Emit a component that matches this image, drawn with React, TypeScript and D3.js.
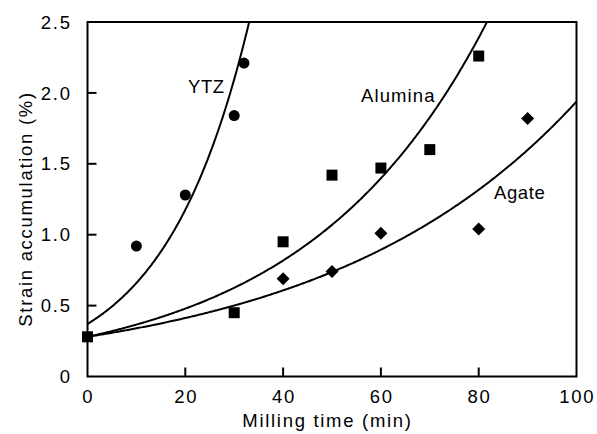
import React from "react";
import * as d3 from "d3";

const ytzX = [10, 20, 30, 32];
const ytzY = [0.92, 1.28, 1.84, 2.21];
const aluminaX = [0, 30, 40, 50, 60, 70, 80];
const aluminaY = [0.28, 0.45, 0.95, 1.42, 1.47, 1.6, 2.26];
const agateX = [40, 50, 60, 80, 90];
const agateY = [0.69, 0.74, 1.01, 1.04, 1.82];

// exponential fits y = a * exp(b * x)
const fitNames = ["YTZ", "Alumina", "Agate"];
const fitA = [0.37, 0.28, 0.28];
const fitB = [0.0578, 0.0268, 0.01935];

const xTicks = [0, 20, 40, 60, 80, 100];
const yTicks = [0, 0.5, 1.0, 1.5, 2.0, 2.5];
const yTickLabels = ["0", "0.5", "1.0", "1.5", "2.0", "2.5"];

const W = 597;
const H = 434;
const L = 87.5, R = 576.5, T = 22, B = 376.5;
const FONT = "'Liberation Sans', Arial, Helvetica, sans-serif";
const FS = 18.5;
const LS = 1.7;

export default function App() {
  const x = d3.scaleLinear().domain([0, 100]).range([L, R]);
  const y = d3.scaleLinear().domain([0, 2.5]).range([B, T]);

  const xs = d3.range(0, 100.01, 0.25);
  const line = d3
    .line<number[]>()
    .x((d) => x(d[0]))
    .y((d) => y(d[1]));

  const curves = fitA.map((a, i) =>
    line(xs.map((v) => [v, a * Math.exp(fitB[i] * v)]).filter((p) => p[1] < 2.7))
  );

  const sq = 11;
  const dia = 6.5;

  return (
    <svg
      width={W}
      height={H}
      style={{ position: "absolute", left: 0, top: 0, background: "#fff" }}
      fontFamily={FONT}
    >
      <defs>
        <clipPath id="plot">
          <rect x={L} y={T} width={R - L} height={B - T} />
        </clipPath>
      </defs>
      <rect x={0} y={0} width={W} height={H} fill="#fff" />

      {/* curves */}
      <g clipPath="url(#plot)" fill="none" stroke="#000" strokeWidth={2}>
        {curves.map((c, i) => (
          <path key={fitNames[i]} d={c || ""} />
        ))}
      </g>

      {/* frame */}
      <rect x={L} y={T} width={R - L} height={B - T} fill="none" stroke="#000" strokeWidth={2} />

      {/* ticks */}
      {xTicks.slice(1, -1).map((t) => (
        <line key={"xt" + t} x1={x(t)} x2={x(t)} y1={B} y2={B - 9} stroke="#000" strokeWidth={2} />
      ))}
      {yTicks.slice(1, -1).map((t) => (
        <line key={"yt" + t} x1={L} x2={L + 9} y1={y(t)} y2={y(t)} stroke="#000" strokeWidth={2} />
      ))}

      {/* tick labels */}
      {xTicks.map((t) => (
        <text
          key={"xl" + t}
          x={x(t) + LS / 2}
          y={403}
          textAnchor="middle"
          fontSize={FS}
          letterSpacing={LS}
        >
          {t}
        </text>
      ))}
      {yTicks.map((t, i) => (
        <text
          key={"yl" + t}
          x={70 + LS}
          y={y(t) + 6.6}
          textAnchor="end"
          fontSize={FS}
          letterSpacing={LS}
        >
          {yTickLabels[i]}
        </text>
      ))}

      {/* axis titles */}
      <text x={327.5} y={426.5} textAnchor="middle" fontSize={FS} letterSpacing={LS}>
        Milling time (min)
      </text>
      <text
        transform={`translate(31.5, 209) rotate(-90)`}
        textAnchor="middle"
        fontSize={FS}
        letterSpacing={LS}
      >
        Strain accumulation (%)
      </text>

      {/* markers */}
      {ytzX.map((v, i) => (
        <circle key={"c" + i} cx={x(v)} cy={y(ytzY[i])} r={5.5} fill="#000" />
      ))}
      {aluminaX.map((v, i) => (
        <rect
          key={"s" + i}
          x={x(v) - sq / 2}
          y={y(aluminaY[i]) - sq / 2}
          width={sq}
          height={sq}
          fill="#000"
        />
      ))}
      {agateX.map((v, i) => {
        const cx = x(v), cy = y(agateY[i]);
        return (
          <path
            key={"d" + i}
            d={`M${cx},${cy - dia}L${cx + dia},${cy}L${cx},${cy + dia}L${cx - dia},${cy}Z`}
            fill="#000"
          />
        );
      })}

      {/* curve labels */}
      <text x={188} y={93} fontSize={FS} letterSpacing={0.6}>YTZ</text>
      <text x={361} y={102} fontSize={FS} letterSpacing={1.1}>Alumina</text>
      <text x={494} y={199} fontSize={FS} letterSpacing={0.6}>Agate</text>
    </svg>
  );
}
